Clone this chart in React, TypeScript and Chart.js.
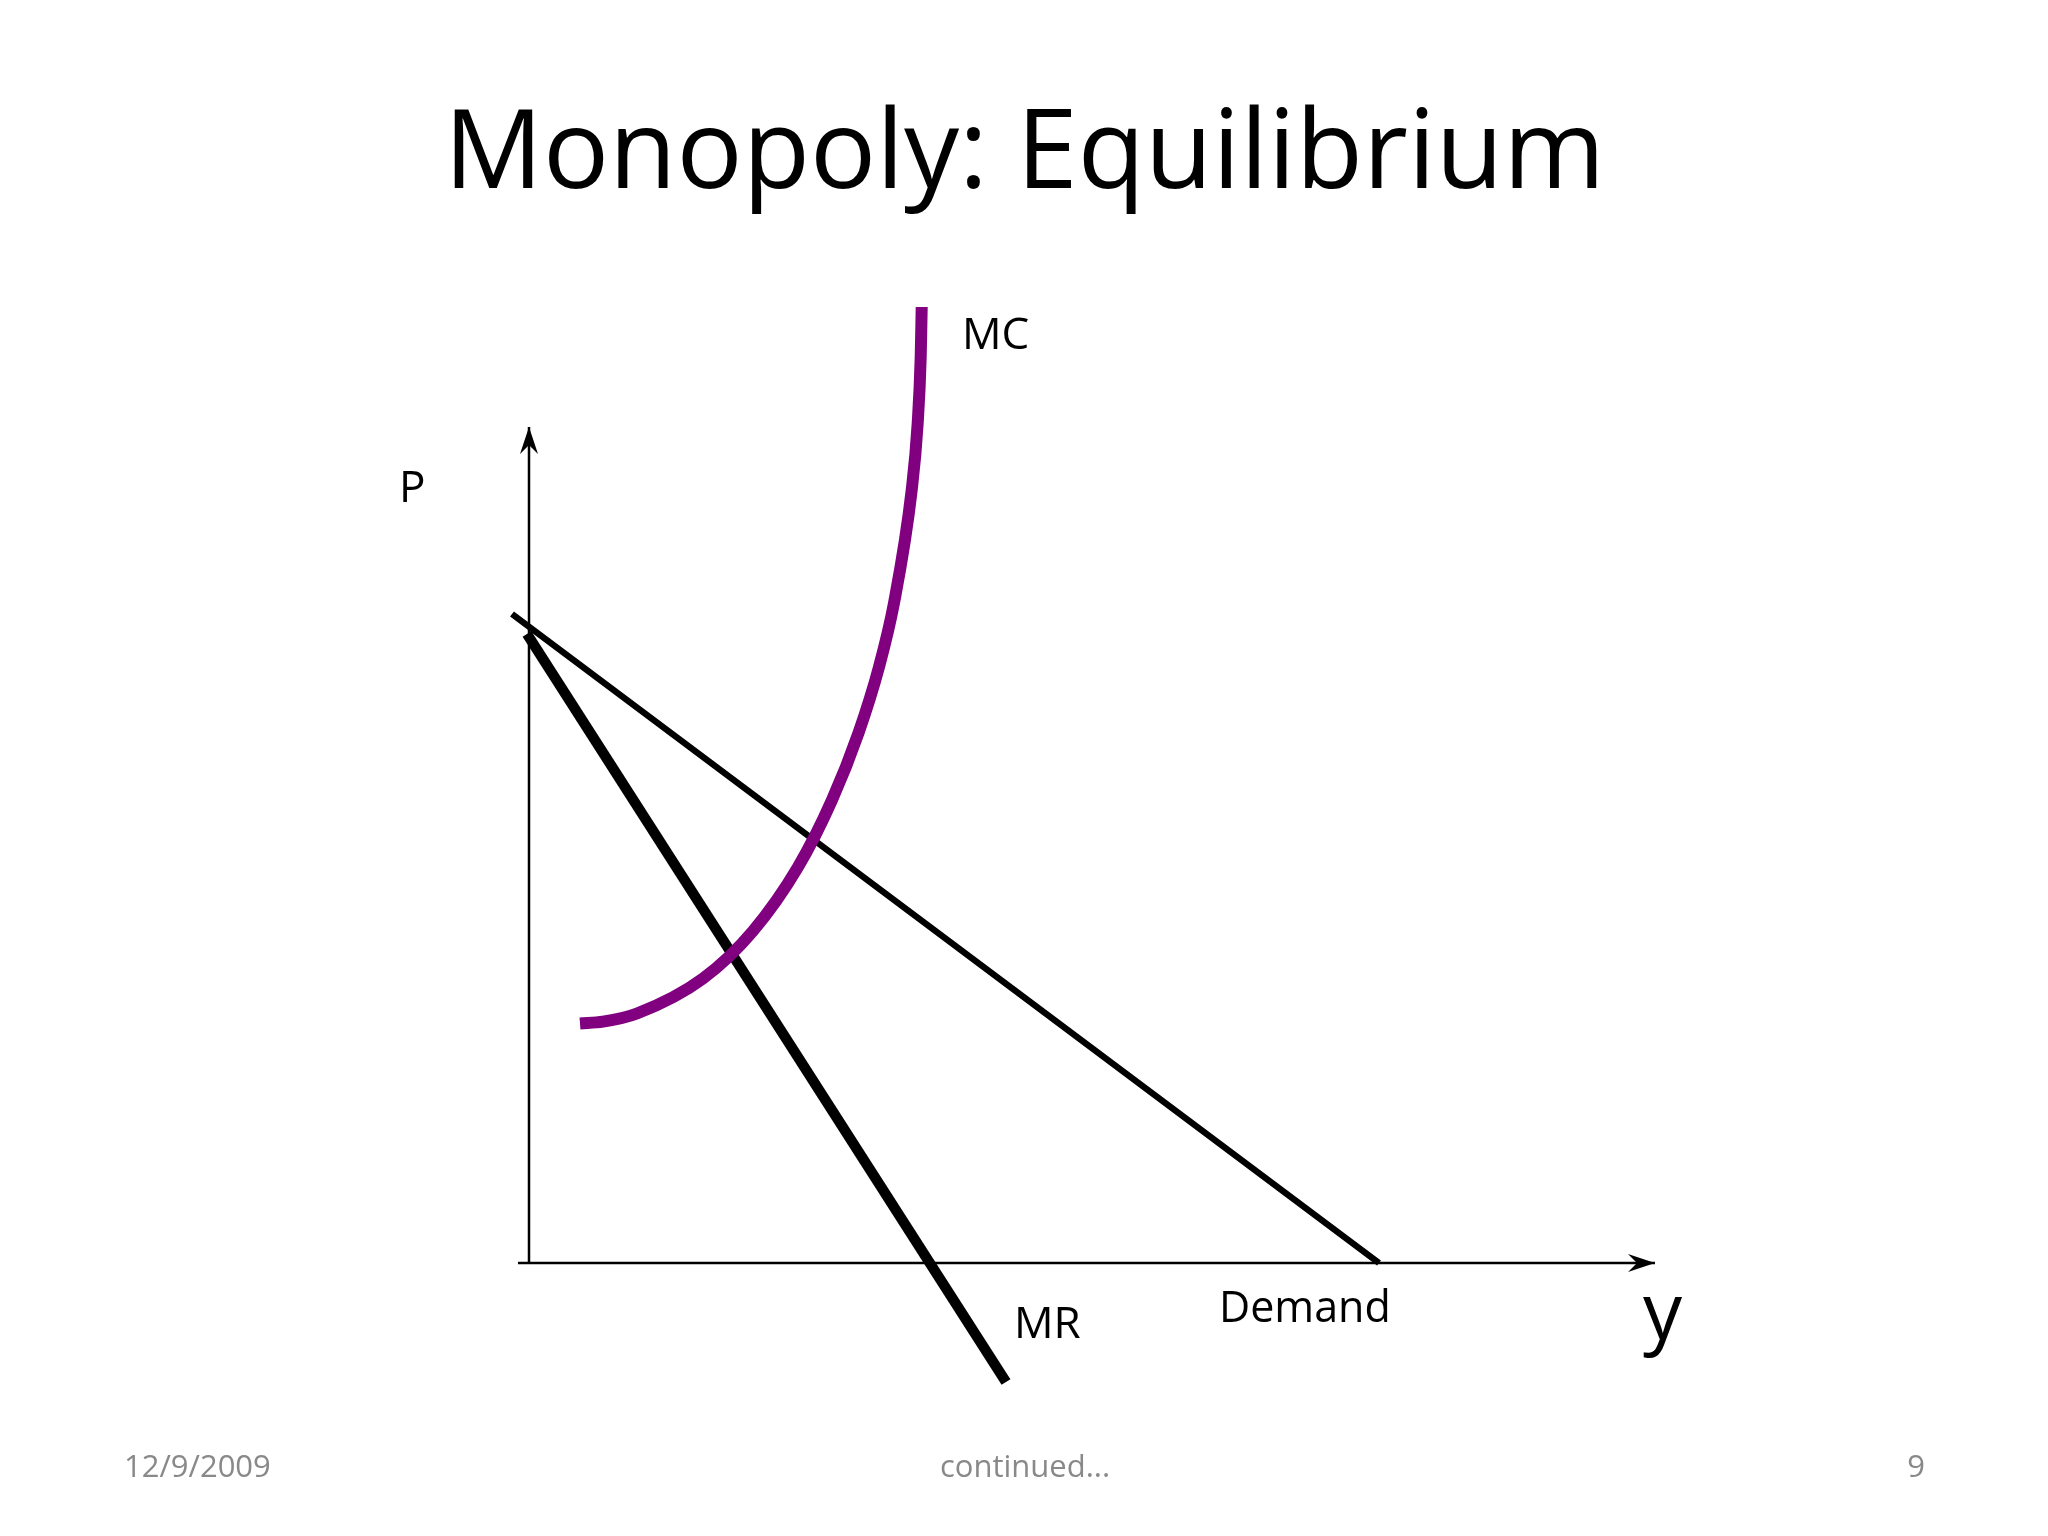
import React, { useEffect, useRef } from "react";
import { Chart, registerables } from "chart.js";

Chart.register(...registerables);

// ---- data (quantity y on x-axis, price P on y-axis) ----
const demandQ = [-1.7, 85.0];
const demandP = [64.9, 0.0];

const mrQ = [-0.2, 47.7];
const mrP = [62.9, -11.9];

const mcQ = [5.1, 7.4, 10.8, 17.4, 22.4, 26.9, 30.3, 32.95, 35.0, 36.5, 38.27, 38.87, 39.17, 39.27];
const mcP = [23.95, 24.13, 24.95, 28.45, 33.2, 39.6, 46.3, 53.0, 59.6, 66.0, 77.3, 84.0, 90.6, 95.6];

const xAxisQ = [-1.1, 112.6];
const xAxisP = [0, 0];
const yAxisQ = [0, 0];
const yAxisP = [0, 83.6];

const titleText = "Monopoly: Equilibrium";
const curveLabels = ["MC", "P", "MR", "Demand", "y"];
const footerLeft = "12/9/2009";
const footerCenter = "continued...";
const footerRight = "9";

const zip = (xs: number[], ys: number[]) => xs.map((x, i) => ({ x, y: ys[i] }));

const FONT = '"Open Sans", "Noto Sans", sans-serif';

const overlayPlugin = {
  id: "overlay",
  afterDatasetsDraw(chart: any) {
    const ctx = chart.ctx;
    const xs = chart.scales.x;
    const ys = chart.scales.y;
    // arrowheads on axis datasets
    chart.data.datasets.forEach((ds: any, i: number) => {
      if (!ds.arrow) return;
      const meta = chart.getDatasetMeta(i);
      const pts = meta.data;
      const a = pts[pts.length - 2];
      const b = pts[pts.length - 1];
      const ang = Math.atan2(b.y - a.y, b.x - a.x);
      const L = 27, W = 9, N = 18;
      ctx.save();
      ctx.translate(b.x, b.y);
      ctx.rotate(ang);
      ctx.beginPath();
      ctx.moveTo(0, 0);
      ctx.lineTo(-L, -W);
      ctx.lineTo(-N, 0);
      ctx.lineTo(-L, W);
      ctx.closePath();
      ctx.fillStyle = "#000";
      ctx.fill();
      ctx.restore();
    });

    // curve labels positioned in data units
    const anchors: [number, number, string][] = [
      [43.3, 91.4, "44px"],
      [-13.0, 76.1, "44px"],
      [48.5, -7.5, "44px"],
      [69.0, -5.9, "43px"],
      [111.4, -7.6, "78px"],
    ];
    ctx.save();
    ctx.fillStyle = "#000";
    ctx.textBaseline = "alphabetic";
    ctx.textAlign = "left";
    curveLabels.forEach((t, i) => {
      const [qx, py, size] = anchors[i];
      ctx.font = `${size} ${FONT}`;
      ctx.fillText(t, xs.getPixelForValue(qx), ys.getPixelForValue(py));
    });
    ctx.restore();
  },
  afterDraw(chart: any) {
    const ctx = chart.ctx;
    ctx.save();
    ctx.fillStyle = "#000";
    ctx.textBaseline = "alphabetic";
    ctx.textAlign = "center";
    ctx.font = `110px ${FONT}`;
    ctx.fillText(titleText, 1024.5, 188);

    ctx.fillStyle = "#898989";
    ctx.font = `31px ${FONT}`;
    ctx.textAlign = "left";
    ctx.fillText(footerLeft, 124, 1477);
    ctx.textAlign = "center";
    ctx.fillText(footerCenter, 1025, 1477);
    ctx.textAlign = "right";
    ctx.fillText(footerRight, 1925, 1477);
    ctx.restore();
  },
};

const bgPlugin = {
  id: "bg",
  beforeDraw(chart: any) {
    const ctx = chart.ctx;
    ctx.save();
    ctx.fillStyle = "#fff";
    ctx.fillRect(0, 0, chart.width, chart.height);
    ctx.restore();
  },
};

export default function App() {
  const ref = useRef<HTMLCanvasElement | null>(null);
  useEffect(() => {
    if (!ref.current) return;
    const common = {
      showLine: true,
      pointRadius: 0,
      pointHoverRadius: 0,
      fill: false,
      borderCapStyle: "butt",
      borderJoinStyle: "round",
      cubicInterpolationMode: "default",
      tension: 0,
    };
    const chart = new Chart(ref.current, {
      type: "line",
      data: {
        datasets: [
          { ...common, label: "MC", data: zip(mcQ, mcP), borderColor: "#800080", borderWidth: 12, cubicInterpolationMode: "monotone" },
          { ...common, label: "MR", data: zip(mrQ, mrP), borderColor: "#000", borderWidth: 10.5 },
          { ...common, label: "Demand", data: zip(demandQ, demandP), borderColor: "#000", borderWidth: 6.5 },
          { ...common, label: "xAxis", data: zip(xAxisQ, xAxisP), borderColor: "#000", borderWidth: 2.5, arrow: true },
          { ...common, label: "yAxis", data: zip(yAxisQ, yAxisP), borderColor: "#000", borderWidth: 2.5, arrow: true },
        ] as any,
      },
      options: {
        animation: false,
        responsive: false,
        devicePixelRatio: 1,
        layout: { padding: { left: 449, right: 319, top: 263, bottom: 73 } },
        plugins: { legend: { display: false }, tooltip: { enabled: false } },
        scales: {
          x: { type: "linear", min: -8, max: 120, display: false },
          y: { type: "linear", min: -20, max: 100, display: false },
        },
      } as any,
      plugins: [bgPlugin, overlayPlugin],
    });
    return () => chart.destroy();
  }, []);
  return (
    <div style={{ position: "fixed", left: 0, top: 0, width: 2048, height: 1536, background: "#fff" }}>
      <canvas ref={ref} width={2048} height={1536} style={{ display: "block", width: 2048, height: 1536 }} />
    </div>
  );
}
